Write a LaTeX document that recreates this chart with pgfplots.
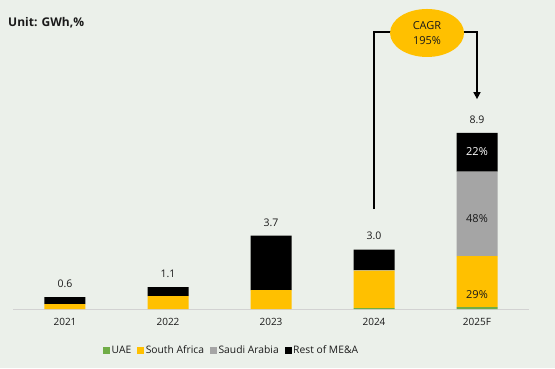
\documentclass[border=0pt]{standalone}
\usepackage{pgfplots}
\pgfplotsset{compat=1.18}
\usepackage{fontspec}
\setmainfont{Open Sans}
\usetikzlibrary{arrows.meta,shapes.geometric}
\definecolor{bgc}{HTML}{EBF0EA}
\definecolor{uae}{HTML}{70AD47}
\definecolor{sa}{HTML}{FFC000}
\definecolor{ksa}{HTML}{A5A5A5}
\definecolor{txt}{HTML}{1A1A1A}
\begin{document}
\begin{tikzpicture}[x=1pt,y=1pt]
\useasboundingbox (0,0) rectangle (555,368);
\fill[bgc] (0,0) rectangle (555,368);
\node[anchor=west,font=\bfseries\fontsize{12}{14}\selectfont,text=txt,inner sep=0] at (8,345) {Unit: GWh,\%};
\begin{axis}[
  at={(13.5pt,59pt)}, anchor=south west,
  scale only axis, width=515pt, height=309pt,
  xmin=-0.5, xmax=4.5, ymin=0, ymax=15.606,
  ybar stacked, bar width=41pt,
  axis x line*=bottom, axis y line=none,
  x axis line style={draw=gray!35, line width=0.8pt},
  xtick={0,1,2,3,4}, xticklabels={2021,2022,2023,2024,2025F},
  major tick length=0pt,
  xticklabel style={font=\fontsize{10}{12}\selectfont, text=txt, yshift=-6pt},
  ytick=\empty,
  clip=false,
  legend columns=-1,
  legend style={draw=none, fill=none, at={(0.423,-0.133)}, anchor=center,
    font=\fontsize{10.3}{12}\selectfont, text=txt,
    nodes={inner sep=1.5pt},
    /tikz/every odd column/.append style={column sep=0pt},
    /tikz/every even column/.append style={column sep=4.5pt}},
  legend image code/.code={\fill[#1] (0pt,-3.5pt) rectangle (7pt,3.5pt);},
]
\addplot+[fill=uae, draw=none] coordinates {(0,0) (1,0) (2,0) (3,0.04) (4,0.09)};
\addplot+[fill=sa, draw=none] coordinates {(0,0.25) (1,0.65) (2,0.95) (3,1.9) (4,2.58)};
\addplot+[fill=ksa, draw=none] coordinates {(0,0) (1,0) (2,0) (3,0.02) (4,4.27)};
\addplot+[fill=black, draw=none] coordinates {(0,0.35) (1,0.45) (2,2.75) (3,1.04) (4,1.96)};
\legend{UAE, South Africa, Saudi Arabia, Rest of ME\&A}
\coordinate (t0) at (axis cs:0,0.6);
\coordinate (t1) at (axis cs:1,1.1);
\coordinate (t2) at (axis cs:2,3.7);
\coordinate (t3) at (axis cs:3,3.0);
\coordinate (t4) at (axis cs:4,8.9);
\coordinate (p22) at (axis cs:4,7.93);
\coordinate (p48) at (axis cs:4,4.55);
\coordinate (p29) at (axis cs:4,0.75);
\coordinate (a1) at (axis cs:3,5.05);
\coordinate (a2) at (axis cs:3,13.99);
\coordinate (a3) at (axis cs:3.4,13.99);
\coordinate (a4) at (axis cs:3.6,13.99);
\coordinate (a5) at (axis cs:4,13.99);
\coordinate (a6) at (axis cs:4,10.6);
\coordinate (ec) at (axis cs:3.515,13.94);
\end{axis}
\foreach \c/\lab in {t0/0.6, t1/1.1, t2/3.7, t3/3.0, t4/8.9}{
  \node[font=\fontsize{10.5}{12}\selectfont, text=txt, anchor=south, yshift=6pt] at (\c) {\lab};
}
\node[font=\fontsize{11}{13}\selectfont, text=white] at (p22) {22\%};
\node[font=\fontsize{11}{13}\selectfont, text=txt] at (p48) {48\%};
\node[font=\fontsize{11}{13}\selectfont, text=txt] at (p29) {29\%};
\draw[line width=1.6pt, black] (a1) -- (a2) -- (a3);
\draw[line width=1.6pt, black, -{Triangle[length=7pt,width=7pt]}] (a4) -- (a5) -- (a6);
\node[ellipse, fill=sa, minimum width=74pt, minimum height=48pt, inner sep=0, align=center,
  font=\fontsize{11}{15}\selectfont, text=txt] at (ec) {CAGR\\195\%};
\end{tikzpicture}
\end{document}
